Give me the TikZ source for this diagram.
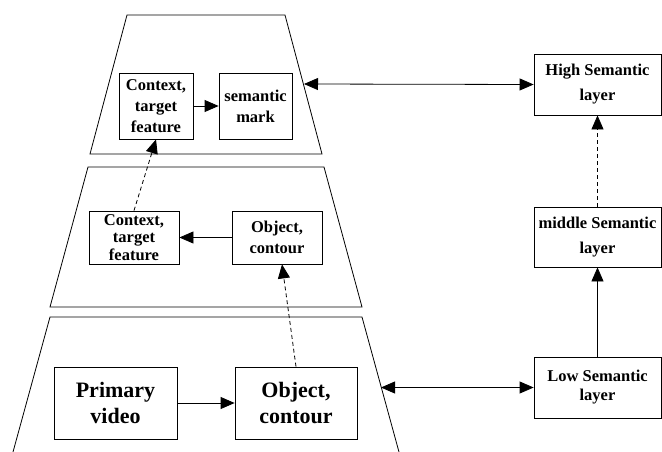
\documentclass[tikz,border=0pt]{standalone}
\usepackage{fontspec}
\setmainfont{Liberation Serif}
\usetikzlibrary{arrows.meta}
\tikzset{
  blk/.style={draw, line width=0.8pt, align=center, inner sep=0pt, font=\bfseries\fontsize{16.5}{21}\selectfont},
  tightblk/.style={blk, font=\bfseries\fontsize{16.5}{17.5}\selectfont},
  bigblk/.style={blk, font=\bfseries\fontsize{22}{26}\selectfont},
  lvl/.style={draw, line width=0.8pt},
  arr/.style={-{Triangle[length=14pt,width=12pt]}, line width=0.8pt},
  darr/.style={{Triangle[length=14pt,width=12pt]}-{Triangle[length=14pt,width=12pt]}, line width=0.8pt},
  dsh/.style={arr, dash pattern=on 4pt off 3pt}
}
\begin{document}
\begin{tikzpicture}[x=1pt, y=-1pt]
\useasboundingbox (0,0) rectangle (662,452);
% three levels
\draw[lvl] (127,15) -- (285,15) -- (322,154) -- (90,154) -- cycle;
\draw[lvl] (88,167) -- (324,167) -- (362,307) -- (50,307) -- cycle;
\draw[lvl] (13,452) -- (50,317) -- (362,317) -- (399,452);
\coordinate (topE) at (304,84);
\coordinate (lowE) at (381,387.5);
% boxes inside the levels
\node[blk, minimum width=74pt, minimum height=66pt] (ctxT) at (156,106) {Context,\\target\\feature};
\node[blk, minimum width=73pt, minimum height=66pt] (markT) at (255.5,106) {semantic\\mark};
\node[tightblk, minimum width=90pt, minimum height=53pt] (ctxM) at (134,237.5) {Context,\\target\\feature};
\node[blk, minimum width=90pt, minimum height=53pt] (objM) at (277,237.5) {Object,\\contour};
\node[bigblk, minimum width=123pt, minimum height=72pt] (vid) at (115.5,403) {Primary\\video};
\node[bigblk, minimum width=122pt, minimum height=72pt] (objB) at (296,403) {Object,\\contour};
% semantic layers
\node[blk, minimum width=127pt, minimum height=61pt] (high) at (597.5,84.5) {High Semantic\\[4pt]layer};
\node[blk, minimum width=127pt, minimum height=60pt] (mid) at (597.5,237) {middle Semantic\\[4pt]layer};
\node[blk, minimum width=127pt, minimum height=61pt] (low) at (597.5,387.5) {Low Semantic\\[-2pt]layer};
% connections
\path[arr] (ctxT) edge (markT);
\path[arr] (objM) edge (ctxM);
\path[arr] (vid) edge (objB);
\path[dsh] (ctxM.north) edge (ctxT.south);
\path[dsh] (objB.north) edge ([xshift=5pt]objM.south);
\path[arr] (low) edge (mid);
\path[dsh] (mid) edge (high);
\path[darr] (topE) edge (high.west);
\path[darr] (lowE) edge (low.west);
\end{tikzpicture}
\end{document}
